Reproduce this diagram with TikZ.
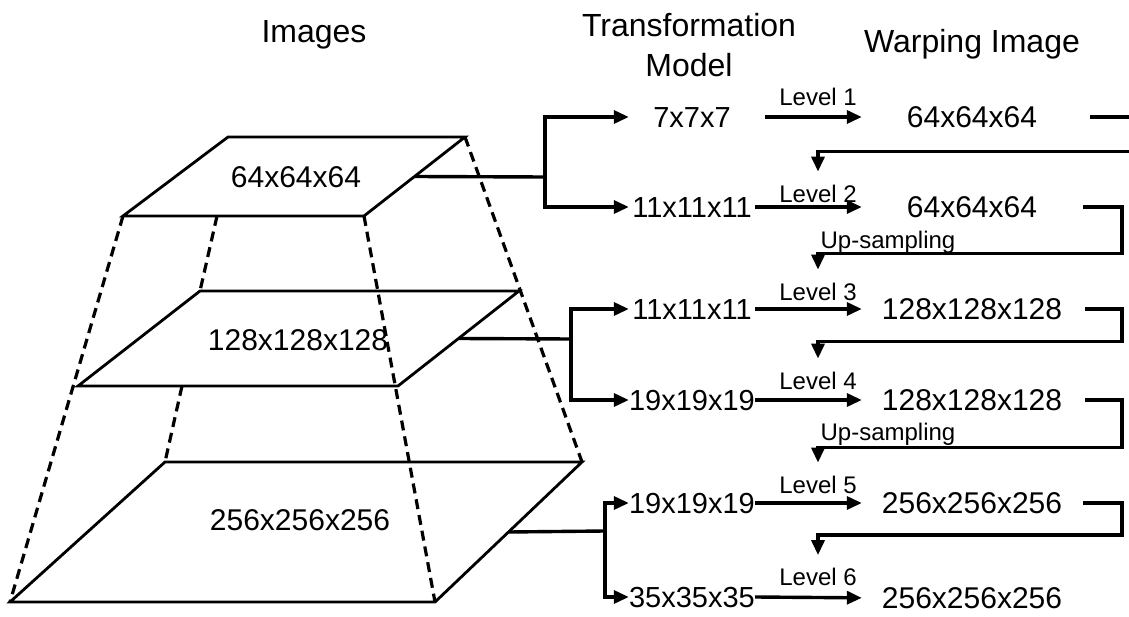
\documentclass[tikz,border=0pt]{standalone}
\usepackage{fontspec}
\setmainfont{Liberation Sans}
\usepackage{tikz}
\usetikzlibrary{arrows.meta, calc, positioning}
\tikzset{
  face/.style={line width=2.8pt, line join=miter},
  hidden/.style={line width=3.2pt, dash pattern=on 10pt off 6pt},
  link/.style={line width=3.4pt},
  arrow/.style={line width=3.4pt, -{Triangle[length=15pt, width=13pt]}},
  heading/.style={font=\fontsize{32}{38}\selectfont, inner sep=0pt, text height=23pt, text depth=0pt},
  size/.style={font=\fontsize{30}{36}\selectfont, inner sep=0pt, text height=21.5pt, text depth=0pt},
  dim/.style={font=\fontsize{29}{34}\selectfont, inner sep=0pt, text height=21pt, text depth=0pt, text width=126pt, align=center},
  warp/.style={size, text width=182pt, align=center},
  lvl/.style={font=\fontsize{24}{29}\selectfont, inner sep=0pt, text height=17pt, text depth=0pt}
}
\begin{document}
\begin{tikzpicture}[x=1pt, y=-1pt]
                \useasboundingbox (0,0) rectangle (1129,617);
                \clip (0,0) rectangle (1129,617);

                % column headings
                \node (imgTitle) [heading] at (314,31) {Images};
                \node (modelTitleA) [heading] at (689,25) {Transformation};
                \node (modelTitleB) [heading] at (689,65) {Model};
                \node (warpTitle) [heading] at (972,41) {Warping Image};

                % pyramid faces
                \coordinate (top-nw) at (228,137);
                \coordinate (top-ne) at (465,137);
                \coordinate (top-se) at (364,216);
                \coordinate (top-sw) at (123,216);
                \coordinate (mid-nw) at (200,291);
                \coordinate (mid-ne) at (519,291);
                \coordinate (mid-se) at (398,386);
                \coordinate (mid-sw) at (78,386);
                \coordinate (bot-nw) at (165,462);
                \coordinate (bot-ne) at (582,462);
                \coordinate (bot-se) at (435,602);
                \coordinate (bot-sw) at (10,602);
                \draw [face] (top-nw) -- (top-ne) -- (top-se) -- (top-sw) -- cycle;
                \draw [face] (mid-nw) -- (mid-ne) -- (mid-se) -- (mid-sw) -- cycle;
                \draw [face] (bot-nw) -- (bot-ne) -- (bot-se) -- (bot-sw) -- cycle;
                \node (topLbl) [size] at (296,177) {64x64x64};
                \node (midLbl) [size] at (298,340) {128x128x128};
                \node (botLbl) [size] at (300,520) {256x256x256};

                % hidden edges of the pyramid
                \draw [hidden] (top-sw) -- (bot-sw);
                \draw [hidden] (217,216) -- (mid-nw);
                \draw [hidden] (182,386) -- (bot-nw);
                \draw [hidden] (top-se) -- (bot-se);
                \draw [hidden] (top-ne) -- (bot-ne);

                % transformation models
                \node (d1) [dim] at (692,117) {7x7x7};
                \node (d2) [dim] at (692,207) {11x11x11};
                \node (d3) [dim] at (692,309) {11x11x11};
                \node (d4) [dim] at (692,400) {19x19x19};
                \node (d5) [dim] at (692,503) {19x19x19};
                \node (d6) [dim] at (692,597) {35x35x35};

                % warped images
                \node (w1) [warp] at (972,117) {64x64x64};
                \node (w2) [warp] at (972,207) {64x64x64};
                \node (w3) [warp] at (972,309) {128x128x128};
                \node (w4) [warp] at (972,400) {128x128x128};
                \node (w5) [warp] at (972,503) {256x256x256};
                \node (w6) [warp] at (972,598) {256x256x256};

                % each face feeds two models
                \coordinate (top-out) at ($(top-ne)!.5!(top-se)$);
                \coordinate (mid-out) at ($(mid-ne)!.5!(mid-se)$);
                \coordinate (bot-out) at ($(bot-ne)!.5!(bot-se)$);
                \coordinate (top-fork) at (545,177);
                \coordinate (mid-fork) at (571,339);
                \coordinate (bot-fork) at (605,531);
                \draw [link] (top-out) -- (top-fork);
                \draw [arrow] (top-fork) |- (d1.west);
                \draw [arrow] (top-fork) |- (d2.west);
                \draw [link] (mid-out) -- (mid-fork);
                \draw [arrow] (mid-fork) |- (d3.west);
                \draw [arrow] (mid-fork) |- (d4.west);
                \draw [link] (bot-out) -- (bot-fork);
                \draw [arrow] (bot-fork) |- (d5.west);
                \draw [arrow] (bot-fork) |- (d6.west);

                % levels
                \draw [arrow, shorten <=10pt, shorten >=19pt] (d1.east) -- node (lv1) [lvl, above=10pt] {Level 1} (w1.west);
                \draw [arrow, shorten >=19pt] (d2.east) -- node (lv2) [lvl, above=3pt] {Level 2} (w2.west);
                \draw [arrow, shorten >=19pt] (d3.east) -- node (lv3) [lvl, above=7pt] {Level 3} (w3.west);
                \draw [arrow, shorten >=19pt] (d4.east) -- node (lv4) [lvl, above=9pt] {Level 4} (w4.west);
                \draw [arrow, shorten >=19pt] (d5.east) -- node (lv5) [lvl, above=8pt] {Level 5} (w5.west);
                \draw [arrow, shorten >=19pt] (d6.east) -- node (lv6) [lvl, above=10pt] {Level 6} (w6.west);

                % result goes back into the next level
                \coordinate (rail) at (1122,0);
                \coordinate (far) at (1145,0);
                \draw [arrow, shorten >=12pt] ([xshift=27pt]w1.east) -- (w1.east -| far) |- ([yshift=32pt]lv2.north) -- (lv2.north);
                \draw [arrow, shorten >=12pt] ([xshift=20pt]w2.east) -- (w2.east -| rail) |- ([yshift=28pt]lv3.north) -- (lv3.north);
                \draw [arrow, shorten >=12pt] ([xshift=22pt]w3.east) -- (w3.east -| rail) |- ([yshift=29pt]lv4.north) -- (lv4.north);
                \draw [arrow, shorten >=12pt] ([xshift=22pt]w4.east) -- (w4.east -| rail) |- ([yshift=27pt]lv5.north) -- (lv5.north);
                \draw [arrow, shorten >=12pt] ([xshift=20pt]w5.east) -- (w5.east -| rail) |- ([yshift=32pt]lv6.north) -- (lv6.north);
                \node (up2) [lvl] at (888,240) {Up-sampling};
                \node (up4) [lvl] at (888,432) {Up-sampling};
\end{tikzpicture}
\end{document}
